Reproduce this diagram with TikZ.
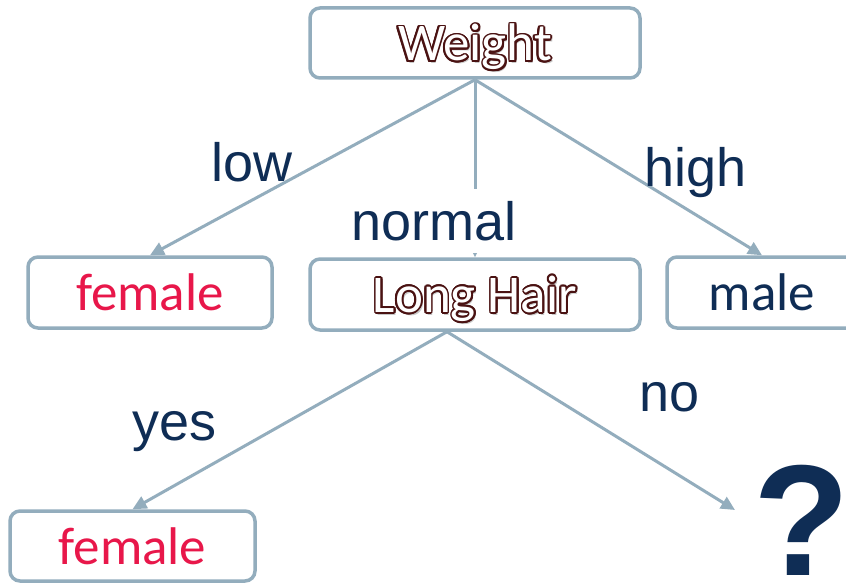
\documentclass[tikz,border=0pt]{standalone}
\usepackage{fontspec}
\setmainfont{Liberation Sans}
\newfontfamily\carl{Carlito}
\usetikzlibrary{arrows.meta}
\definecolor{edge}{HTML}{93ADBD}
\definecolor{navy}{HTML}{0F2D55}
\definecolor{rose}{HTML}{E8174A}
\definecolor{maroon}{HTML}{4A1212}
\newcommand\olsh[3]{\rlap{\kern#1\raisebox{#2}{\textcolor{maroon}{#3}}}}
\newcommand\outl[1]{\rlap{\kern1.8pt\raisebox{-2.8pt}{\textcolor{black!22}{#1}}}%
\olsh{1.8pt}{0pt}{#1}\olsh{-1.8pt}{0pt}{#1}\olsh{0pt}{1.8pt}{#1}\olsh{0pt}{-1.8pt}{#1}%
\olsh{1.3pt}{1.3pt}{#1}\olsh{-1.3pt}{1.3pt}{#1}\olsh{1.3pt}{-1.3pt}{#1}\olsh{-1.3pt}{-1.3pt}{#1}%
\olsh{1.65pt}{0.7pt}{#1}\olsh{-1.65pt}{0.7pt}{#1}\olsh{1.65pt}{-0.7pt}{#1}\olsh{-1.65pt}{-0.7pt}{#1}%
\olsh{0.7pt}{1.65pt}{#1}\olsh{-0.7pt}{1.65pt}{#1}\olsh{0.7pt}{-1.65pt}{#1}\olsh{-0.7pt}{-1.65pt}{#1}%
\textcolor{white}{#1}}
\begin{document}
\begin{tikzpicture}[x=1pt,y=-1pt,
  box/.style={draw=edge, line width=3.5pt, rounded corners=10pt, fill=white,
    inner sep=0pt, text height=36pt, text depth=0pt,
    font=\carl\fontsize{53}{60}\selectfont},
  link/.style={draw=edge, line width=3pt, -{Triangle[length=14pt,width=13pt]}},
  lab/.style={anchor=base west, text=navy, inner sep=0pt,
    font=\fontsize{54}{60}\selectfont}]
\useasboundingbox (0,0) rectangle (846,583);
\clip (0,0) rectangle (846,583);
\fill[white] (0,0) rectangle (846,583);
% boxes
\node[box, minimum width=330pt, minimum height=70pt] (weight) at (475,43) {\outl{Weight}};
\node[box, minimum width=244pt, minimum height=71pt, text=rose] (f1) at (150,292.5) {female};
\node[box, minimum width=330pt, minimum height=71pt] (hair) at (475,294.5) {\outl{Long Hair}};
\node[box, minimum width=190pt, minimum height=71pt, text=navy] (male) at (762,292.5) {male};
\node[box, minimum width=245pt, minimum height=70pt, text=rose] (f2) at (132.5,546) {female};
\node[text=navy, inner sep=0pt, font=\bfseries\fontsize{158}{160}\selectfont] (qm) at (802,520) {?};
\coordinate (q) at (735,510);
% connectors
\draw[link] (weight.south) -- (f1.north);
\draw[link] (weight.south) -- (hair.north);
\draw[link] (weight.south) -- (male.north);
\draw[link] ([xshift=-28pt]hair.south) -- (f2.north);
\draw[link] ([xshift=-28pt]hair.south) -- (q);
% labels
\node[lab] (llow) at (211,182) {low};
\node[lab, fill=white, inner ysep=12pt] (lnormal) at (351,240) {normal};
\node[lab] (lhigh) at (644,186) {high};
\node[lab] (lyes) at (132,440) {yes};
\node[lab] (lno) at (639,411) {no};
\end{tikzpicture}
\end{document}
